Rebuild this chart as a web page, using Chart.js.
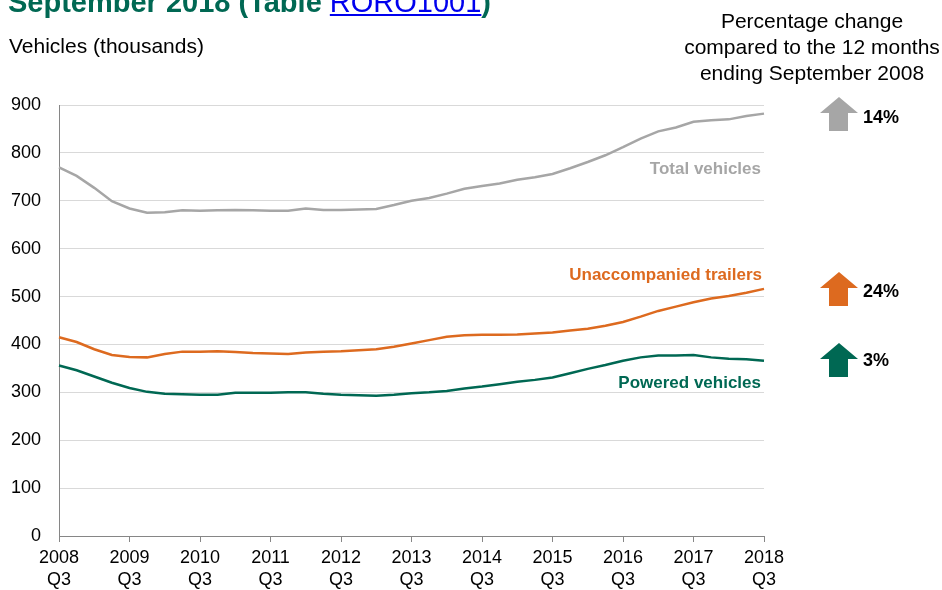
<!DOCTYPE html>
<html>
<head>
<meta charset="utf-8">
<script src="https://cdn.jsdelivr.net/npm/chart.js@4"></script>
<style>
  body { margin: 0; background: #fff; font-family: "Liberation Sans", Arial, sans-serif; }
  #wrap { position: relative; width: 942px; height: 590px; overflow: hidden; }
  #chart { position: absolute; left: 0; top: 0; }
  .txt { position: absolute; white-space: nowrap; }
  .lbl { font-weight: bold; font-size: 17px; line-height: 17px; text-align: right; }
  .pct { font-weight: bold; font-size: 18px; line-height: 18px; color: #000; }
  svg.arrow { position: absolute; }
</style>
</head>
<body>
<div id="wrap">
  <canvas id="chart" width="942" height="590"></canvas>

  <div class="txt" style="left:8px; top:-12px; font-size:29px; line-height:29px; font-weight:bold; color:#006853;">
    September 2018 (Table <span style="color:#0000ee; text-decoration:underline; font-weight:normal;">RORO1001</span>)
  </div>
  <div class="txt" style="left:9px; top:35px; font-size:21px; line-height:21px; color:#000;">Vehicles (thousands)</div>
  <div class="txt" style="left:662px; width:300px; top:8px; font-size:21px; line-height:26px; text-align:center; color:#000;">
    Percentage change<br>compared to the 12 months<br>ending September 2008
  </div>

  <div class="txt lbl" style="right:181px; top:160px; color:#a6a6a6;">Total vehicles</div>
  <div class="txt lbl" style="right:180px; top:266px; color:#dd6a1f;">Unaccompanied trailers</div>
  <div class="txt lbl" style="right:181px; top:374px; color:#006853;">Powered vehicles</div>

  <svg class="arrow" style="left:820px; top:97px;" width="38" height="34"><polygon points="19,0 38,16 28,16 28,34 9,34 9,16 0,16" fill="#a6a6a6"/></svg>
  <div class="txt pct" style="left:863px; top:108px;">14%</div>
  <svg class="arrow" style="left:820px; top:272px;" width="38" height="34"><polygon points="19,0 38,16 28,16 28,34 9,34 9,16 0,16" fill="#dd6a1f"/></svg>
  <div class="txt pct" style="left:863px; top:282px;">24%</div>
  <svg class="arrow" style="left:820px; top:343px;" width="38" height="34"><polygon points="19,0 38,16 28,16 28,34 9,34 9,16 0,16" fill="#006853"/></svg>
  <div class="txt pct" style="left:863px; top:351px;">3%</div>
</div>

<script>
/* quarters, 12 months ending each quarter */
const quarters = [
  "2008 Q3", "2008 Q4", "2009 Q1", "2009 Q2", "2009 Q3", "2009 Q4", "2010 Q1", "2010 Q2",
  "2010 Q3", "2010 Q4", "2011 Q1", "2011 Q2", "2011 Q3", "2011 Q4", "2012 Q1", "2012 Q2",
  "2012 Q3", "2012 Q4", "2013 Q1", "2013 Q2", "2013 Q3", "2013 Q4", "2014 Q1", "2014 Q2",
  "2014 Q3", "2014 Q4", "2015 Q1", "2015 Q2", "2015 Q3", "2015 Q4", "2016 Q1", "2016 Q2",
  "2016 Q3", "2016 Q4", "2017 Q1", "2017 Q2", "2017 Q3", "2017 Q4", "2018 Q1", "2018 Q2",
  "2018 Q3"
];

const totalVehicles = [
  770, 752, 727, 699, 684, 675, 676, 680, 679, 680,
  681, 680, 679, 679, 684, 681, 681, 682, 683, 691,
  700, 706, 715, 725, 731, 736, 744, 749, 756, 768,
  781, 795, 812, 830, 845, 853, 865, 868, 870, 877,
  882
];

const unaccompaniedTrailers = [
  415, 405, 390, 378, 374, 373, 380, 385, 385, 386,
  384, 382, 381, 380, 383, 385, 386, 388, 390, 395,
  402, 409, 416, 419, 420, 420, 421, 423, 425, 429,
  433, 439, 447, 458, 470, 479, 488, 496, 501, 508,
  516
];

const poweredVehicles = [
  356, 346, 333, 320, 309, 301, 297, 296, 295, 295,
  299, 299, 299, 300, 300, 297, 295, 294, 293, 295,
  298, 300, 303, 308, 312, 317, 322, 326, 331, 340,
  349, 357, 366, 373, 377, 377, 378, 373, 370, 369,
  366
];

const yTicks = [0, 100, 200, 300, 400, 500, 600, 700, 800, 900];

const FONT = "'Liberation Sans', Arial, sans-serif";

function series(data, color) {
  return {
    data: data,
    borderColor: color,
    borderWidth: 2.5,
    pointRadius: 0,
    tension: 0,
    fill: false
  };
}

new Chart(document.getElementById("chart"), {
  type: "line",
  data: {
    labels: quarters,
    datasets: [
      series(totalVehicles, "#a6a6a6"),
      series(unaccompaniedTrailers, "#dd6a1f"),
      series(poweredVehicles, "#006853")
    ]
  },
  options: {
    responsive: false,
    animation: false,
    layout: { padding: { top: 105, right: 178, left: 0, bottom: 0 } },
    plugins: { legend: { display: false }, tooltip: { enabled: false } },
    scales: {
      x: {
        type: "category",
        offset: false,
        afterFit: (s) => { s.height = 54; },
        grid: {
          drawOnChartArea: false,
          drawTicks: true,
          tickLength: 6,
          color: "#868686"
        },
        border: { display: true, color: "#868686", width: 1 },
        ticks: {
          autoSkip: false,
          maxRotation: 0,
          padding: 5,
          color: "#000",
          font: { family: FONT, size: 18, lineHeight: 1.22 },
          callback: function (v, i) {
            if (i % 4 !== 0) return null;
            const p = quarters[i].split(" ");
            return [p[0], p[1]];
          }
        }
      },
      y: {
        min: yTicks[0],
        max: yTicks[yTicks.length - 1],
        afterFit: (s) => { s.width = 59; },
        afterBuildTicks: (s) => { s.ticks = yTicks.map((v) => ({ value: v })); },
        grid: { color: "#d9d9d9", lineWidth: 1, drawTicks: false },
        border: { display: true, color: "#868686", width: 1 },
        ticks: {
          padding: 18,
          color: "#000",
          font: { family: FONT, size: 18 }
        }
      }
    }
  }
});
</script>
</body>
</html>
